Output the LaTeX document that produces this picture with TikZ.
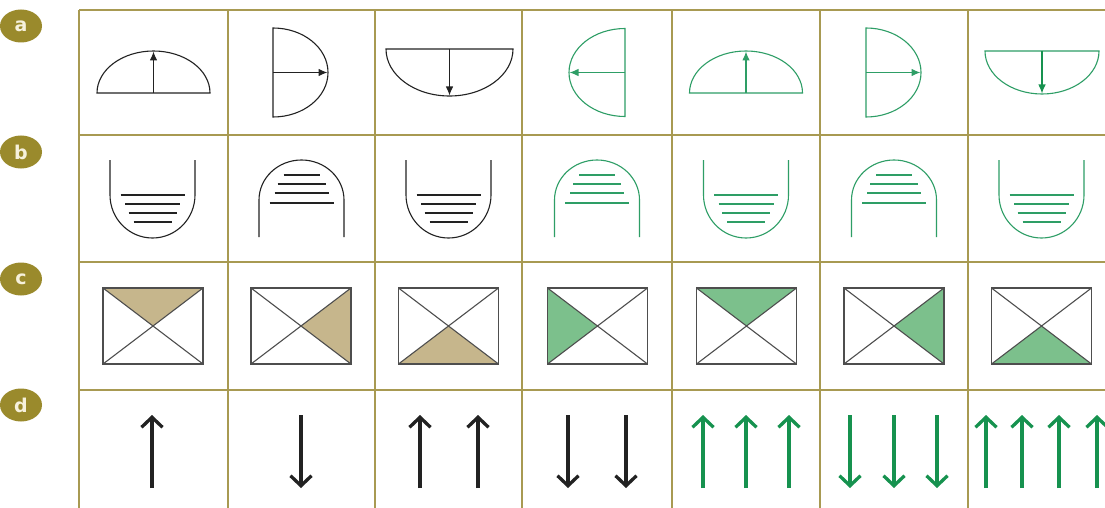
\documentclass[tikz,border=0pt]{standalone}
\usepackage{fontspec}
\newfontfamily\labfont{DejaVu Sans}
\usetikzlibrary{arrows.meta,shapes.geometric}
\definecolor{gridc}{HTML}{A89A52}
\definecolor{labc}{HTML}{9A8A2C}
\definecolor{labt}{HTML}{F6F1DC}
\definecolor{tanc}{HTML}{C6B68C}
\definecolor{greenf}{HTML}{7CC08C}
\definecolor{greenl}{HTML}{2E9E66}
\definecolor{greena}{HTML}{16924F}
\definecolor{inkc}{HTML}{222222}
\newcommand\mydomeup[3]{% cx, color, arrowcolor
  \draw[outl,#2] (#1-56.5,93) arc[start angle=180,end angle=360,x radius=56.5,y radius=42] -- cycle;
  \draw[outl,#3,smallarr] (#1,93) -- (#1,51.5);}
\newcommand\mybowl[6]{% cx, top, rx, ry, color, arrowcolor
  \draw[outl,#5] (#1-#3,#2) arc[start angle=180,end angle=0,x radius=#3,y radius=#4] -- cycle;
  \draw[outl,#6,smallarr] (#1,#2) -- (#1,#2+#4-0.5);}
\newcommand\mydright[3]{%
  \draw[outl,#2] (#1-28,28) arc[start angle=-90,end angle=90,x radius=55,y radius=44.5] -- cycle;
  \draw[outl,#3,smallarr] (#1-28,72.5) -- (#1+26.5,72.5);}
\newcommand\mydleft[3]{%
  \draw[outl,#2] (#1+28,28.5) arc[start angle=270,end angle=90,x radius=56,y radius=44] -- cycle;
  \draw[outl,#3,smallarr] (#1+28,72.5) -- (#1-27.5,72.5);}
\newcommand\myushape[2]{%
  \draw[outl,#2] (#1-42.5,160) -- (#1-42.5,195) arc[start angle=180,end angle=0,x radius=42.5,y radius=43] -- (#1+42.5,160);
  \draw[outl,#2] (#1-32,195) -- (#1+32,195) (#1-27.5,204) -- (#1+27.5,204)
    (#1-24,213) -- (#1+24,213) (#1-19,222) -- (#1+19,222);}
\newcommand\myarch[2]{%
  \draw[outl,#2] (#1-42.5,237) -- (#1-42.5,200) arc[start angle=180,end angle=360,x radius=42.5,y radius=40] -- (#1+42.5,237);
  \draw[outl,#2] (#1-18,175) -- (#1+18,175) (#1-24,184) -- (#1+24,184)
    (#1-27,193) -- (#1+27,193) (#1-32,203) -- (#1+32,203);}
\newcommand\myxbox[3]{% cx, fill colour, side (1 top,2 right,3 bottom,4 left)
  \ifcase#3\or
    \fill[#2] (#1-50,288) -- (#1+50,288) -- (#1,326) -- cycle;\or
    \fill[#2] (#1+50,288) -- (#1+50,364) -- (#1,326) -- cycle;\or
    \fill[#2] (#1-50,364) -- (#1+50,364) -- (#1,326) -- cycle;\or
    \fill[#2] (#1-50,288) -- (#1-50,364) -- (#1,326) -- cycle;\fi
  \draw[boxl] (#1-50,288) rectangle (#1+50,364);
  \draw[boxl] (#1-50,288) -- (#1+50,364) (#1+50,288) -- (#1-50,364);}
\newcommand\myup[2]{\draw[bigarr,#2] (#1,488) -- (#1,415);}
\newcommand\mydown[2]{\draw[bigarr,#2] (#1,415) -- (#1,488);}
\begin{document}
\begin{tikzpicture}[x=1pt,y=-1pt,
  gridl/.style={draw=gridc,line width=2.4pt},
  outl/.style={line width=1.1pt},
  smallarr/.style={-{Latex[length=9pt,width=7.5pt]}},
  boxl/.style={draw=inkc!80,line width=1.1pt},
  bigarr/.style={line width=3.3pt,-{Straight Barb[length=10pt,width=21pt]}},
  lab/.style={ellipse,fill=labc,minimum width=42pt,minimum height=33pt,inner sep=0pt,
    text=labt,font=\labfont\bfseries\fontsize{19}{19}\selectfont}]
\useasboundingbox (0,0) rectangle (1105,508);
\fill[white] (0,0) rectangle (1105,508);
\clip (0,0) rectangle (1105,508);
% grid
\foreach \yy in {10,135,262,390} \draw[gridl] (79,\yy) -- (1116,\yy);
\foreach \xx in {79,228,375,522,672,820,968} \draw[gridl] (\xx,10) -- (\xx,516);
% row labels
\node[lab] (la) at (21,26) {a};
\node[lab] (lb) at (21,152) {b};
\node[lab] (lc) at (21,279) {c};
\node[lab] (ld) at (21,405) {d};
% row a
\mydomeup{153.5}{inkc}{inkc}
\mydright{301}{inkc}{inkc}
\mybowl{449.5}{49}{63.5}{47}{inkc}{inkc}
\mydleft{597}{greenl}{greenl}
\mydomeup{746}{greenl}{greenl}
\mydright{894}{greenl}{greenl}
\mybowl{1042}{51}{57}{43}{greenl}{greena}
% row b
\myushape{152.5}{inkc}
\myarch{301.5}{inkc}
\myushape{448.5}{inkc}
\myarch{597}{greenl}
\myushape{746}{greenl}
\myarch{894}{greenl}
\myushape{1041.5}{greenl}
% row c
\myxbox{153}{tanc}{1}
\myxbox{301}{tanc}{2}
\myxbox{448.5}{tanc}{3}
\myxbox{597.5}{greenf}{4}
\myxbox{746.5}{greenf}{1}
\myxbox{894}{greenf}{2}
\myxbox{1041.5}{greenf}{3}
% row d
\myup{152}{inkc}
\mydown{301}{inkc}
\myup{420}{inkc}\myup{478}{inkc}
\mydown{568}{inkc}\mydown{626}{inkc}
\myup{703}{greena}\myup{746}{greena}\myup{789}{greena}
\mydown{850}{greena}\mydown{894}{greena}\mydown{937}{greena}
\myup{986}{greena}\myup{1022}{greena}\myup{1059}{greena}\myup{1097}{greena}
\end{tikzpicture}
\end{document}
